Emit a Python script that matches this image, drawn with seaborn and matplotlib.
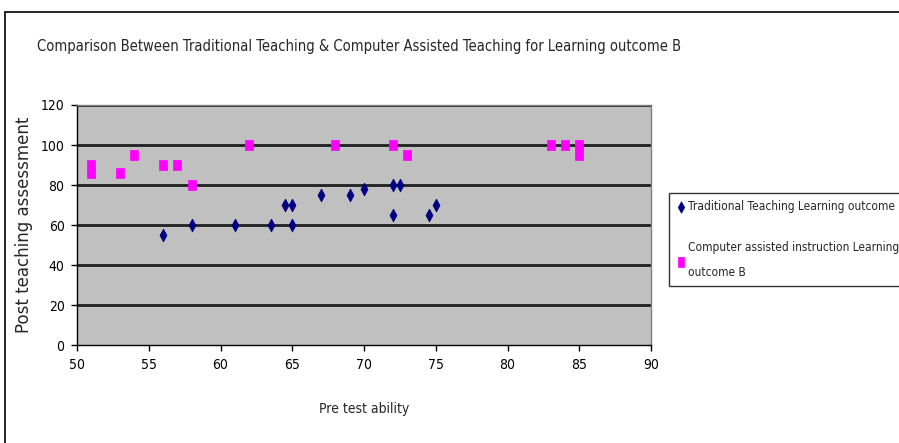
import matplotlib
matplotlib.use("Agg")
import matplotlib.pyplot as plt
import seaborn as sns
import pandas as pd
from matplotlib.patches import Rectangle

# ==========================================================
# DATA
# ==========================================================
trad_x = [56, 58, 61, 63.5, 64.5, 65, 65, 67, 69, 70, 72, 72.5, 72, 74.5, 75]
trad_y = [55, 60, 60, 60, 70, 70, 60, 75, 75, 78, 80, 80, 65, 65, 70]

cai_x = [51, 51, 53, 54, 56, 57, 58, 62, 68, 72, 73, 83, 84, 85, 85]
cai_y = [90, 86, 86, 95, 90, 90, 80, 100, 100, 100, 95, 100, 100, 100, 95]

trad_label = "Traditional Teaching Learning outcome"
cai_label = "Computer assisted instruction Learning\noutcome B"
title = "Comparison Between Traditional Teaching & Computer Assisted Teaching for Learning outcome B"

df_trad = pd.DataFrame({"pre": trad_x, "post": trad_y})
df_cai = pd.DataFrame({"pre": cai_x, "post": cai_y})

# ==========================================================
# PLOT
# ==========================================================
sns.set_style("white")
plt.rcParams["font.family"] = ["DejaVu Sans"]
plt.rcParams["font.stretch"] = "condensed"

fig = plt.figure(figsize=(8.99, 4.43), dpi=100)
ax = fig.add_axes([0.0857, 0.221, 0.6385, 0.542])

# outer chart border like the spreadsheet chart area
fig.patches.append(Rectangle((5 / 899, -0.1), 1.2, 1 - 12 / 443 + 0.1, transform=fig.transFigure,
                             fill=False, edgecolor="black", linewidth=1.2))

diamond = [(0, 1), (0.55, 0), (0, -1), (-0.55, 0), (0, 1)]
rect = [(-0.7, -1), (0.7, -1), (0.7, 1), (-0.7, 1), (-0.7, -1)]

sns.scatterplot(data=df_trad, x="pre", y="post", marker=diamond, s=85, color="#000080",
                edgecolor="#000080", linewidth=0.5, ax=ax, label=trad_label, zorder=3)
sns.scatterplot(data=df_cai, x="pre", y="post", marker=rect, s=60, color="#FF00FF",
                edgecolor="#FF00FF", linewidth=0.5, ax=ax, label=cai_label, zorder=3)

ax.set_facecolor("#C0C0C0")
ax.set_xlim(50, 90)
ax.set_ylim(0, 120)
ax.set_xticks(range(50, 91, 5))
ax.set_yticks(range(0, 121, 20))
for yv in range(20, 121, 20):
    ax.axhline(yv, color="#202020", linewidth=2, zorder=1)

for side in ["top", "right"]:
    ax.spines[side].set_color("#808080")
    ax.spines[side].set_linewidth(1)
for side in ["left", "bottom"]:
    ax.spines[side].set_color("black")
    ax.spines[side].set_linewidth(1)

ax.tick_params(axis="both", direction="out", length=4, width=1, colors="black", labelsize=10,
               bottom=True, left=True, pad=5)
ax.set_xlabel("Pre test ability", fontsize=10, labelpad=22)
ax.set_ylabel("Post teaching assessment", fontsize=12, fontstretch="normal")
ax.yaxis.set_label_coords(-0.077, 0.5)

fig.text(37 / 899, 1 - 47 / 443, title, fontsize=10.5, va="center", ha="left")

leg = ax.legend(loc="upper left", bbox_to_anchor=(669 / 899, 1 - 193 / 443),
                bbox_transform=fig.transFigure, frameon=True, fancybox=False,
                fontsize=8.6, borderpad=0.6, labelspacing=2.3, handletextpad=0.15,
                handlelength=0.8, markerscale=0.9, borderaxespad=0)
for t in leg.get_texts():
    t.set_linespacing(2.2)
leg.get_frame().set_edgecolor("black")
leg.get_frame().set_linewidth(1)

fig.savefig("out.png", dpi=100)
